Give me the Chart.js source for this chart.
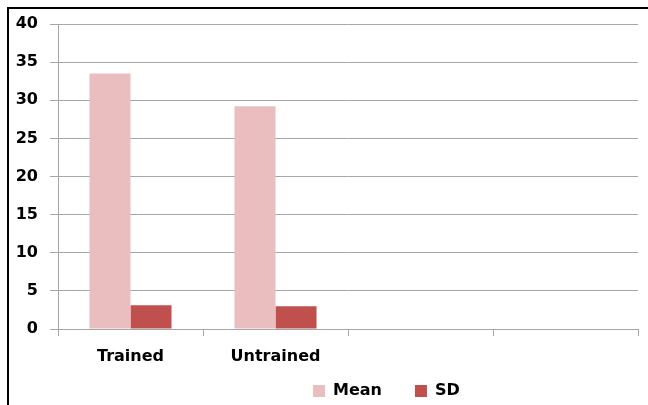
<!DOCTYPE html>
<html>
<head>
<meta charset="utf-8">
<script src="https://cdn.jsdelivr.net/npm/chart.js@4/dist/chart.umd.min.js"></script>
<style>
  html, body { margin: 0; padding: 0; background: #fff; }
  #wrap { position: relative; width: 648px; height: 405px; }
</style>
</head>
<body>
<div id="wrap"><canvas id="c" width="648" height="405"></canvas></div>
<script>
const categories = ['Trained', 'Untrained', '', ''];
const meanValues = [33.5, 29.2, null, null];
const sdValues = [3.1, 3.0, null, null];
const seriesNames = ['Mean', 'SD'];
const yTicks = { min: 0, max: 40, step: 5 };

const GRID = '#A6A6A6';
const FONT = "'DejaVu Sans', sans-serif";

const framePlugin = {
  id: 'frame',
  afterLayout(chart) {
    const lg = chart.legend;
    if (!lg || !lg.lineWidths) return;
    const pad = lg.options.labels.padding;
    const startX = (lg.left + pad + lg.right - lg.lineWidths[0]) / 2;
    const shift = 313 - startX;
    lg.left += shift; lg.right += shift;
    lg.top = 383 - pad;
    lg.bottom = 405;
    lg.height = lg.bottom - lg.top;
  },
  afterDraw(chart) {
    const ctx = chart.ctx;
    ctx.save();
    ctx.strokeStyle = '#000';
    ctx.lineWidth = 2;
    ctx.beginPath();
    ctx.moveTo(8, 405);
    ctx.lineTo(8, 8);
    ctx.lineTo(648, 8);
    ctx.stroke();
    ctx.restore();
  }
};

new Chart(document.getElementById('c'), {
  type: 'bar',
  data: {
    labels: categories,
    datasets: [
      { label: seriesNames[0], data: meanValues, backgroundColor: 'rgb(234,190,190)', borderWidth: 0 },
      { label: seriesNames[1], data: sdValues, backgroundColor: 'rgb(192,80,77)', borderWidth: 0 }
    ]
  },
  options: {
    responsive: false,
    animation: false,
    devicePixelRatio: 1,
    layout: { padding: { top: 24, left: 10, right: 10, bottom: 0 } },
    datasets: { bar: { categoryPercentage: 0.566, barPercentage: 1.0 } },
    plugins: {
      tooltip: { enabled: false },
      legend: {
        position: 'bottom',
        maxHeight: 30,
        labels: {
          boxWidth: 12, boxHeight: 12, padding: 33,
          color: '#000',
          font: { family: FONT, size: 16, weight: 'bold' }
        }
      }
    },
    scales: {
      x: {
        grid: { offset: true, drawOnChartArea: false, drawTicks: true, tickLength: 7, color: GRID },
        border: { display: true, color: GRID },
        ticks: { color: '#000', padding: 11, font: { family: FONT, size: 16, weight: 'bold' }, maxRotation: 0, autoSkip: false },
        afterFit(s) { s.height = 46; }
      },
      y: {
        min: yTicks.min, max: yTicks.max,
        grid: { color: GRID, tickLength: 8, drawTicks: true },
        border: { display: true, color: GRID },
        ticks: { stepSize: yTicks.step, color: '#000', padding: 12, font: { family: FONT, size: 16, weight: 'bold' } },
        afterFit(s) { s.width = 48; }
      }
    }
  },
  plugins: [framePlugin]
});
</script>
</body>
</html>
